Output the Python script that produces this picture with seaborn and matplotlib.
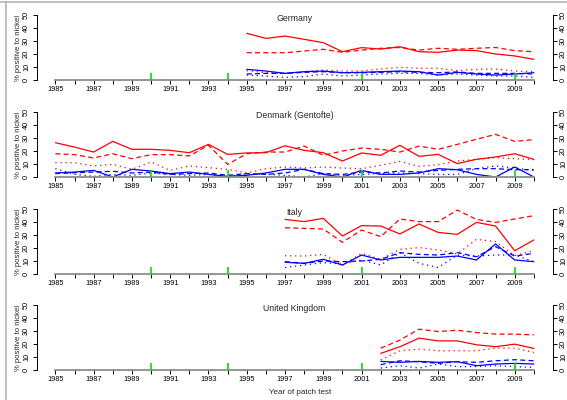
import matplotlib
matplotlib.use('Agg')
import pandas as pd
import matplotlib.pyplot as plt
import seaborn as sns
from matplotlib.lines import Line2D

# Years covered by each centre
de_years = list(range(1995, 2011))
dk_years = list(range(1985, 2011))
it_years = list(range(1997, 2011))
uk_years = list(range(2002, 2011))

# Germany
de_red_solid = [35.9, 32.0, 33.8, 31.3, 28.7, 21.8, 24.9, 23.8, 25.6, 21.8, 21.3, 23.0, 22.6, 20.0, 18.5, 15.9]
de_red_dashed = [21.0, 21.0, 21.0, 22.3, 23.6, 21.3, 23.0, 24.4, 25.0, 23.0, 24.4, 23.6, 24.4, 25.0, 22.6, 21.8]
de_red_dotted = [7.2, 5.6, 5.1, 6.4, 7.7, 6.9, 6.9, 8.5, 9.7, 9.0, 9.0, 7.2, 8.2, 8.5, 6.9, 6.4]
de_blue_solid = [8.2, 6.9, 5.1, 6.4, 6.9, 5.6, 5.9, 6.4, 6.9, 6.4, 3.8, 5.9, 4.6, 3.8, 4.6, 5.6]
de_blue_dashed = [4.6, 5.1, 5.1, 5.9, 6.4, 5.6, 5.6, 5.9, 6.4, 5.9, 5.6, 6.2, 5.1, 5.1, 5.1, 4.6]
de_blue_dotted = [3.8, 3.1, 2.0, 2.6, 4.6, 3.1, 3.8, 4.6, 5.1, 5.1, 3.8, 4.6, 3.8, 3.1, 3.1, 2.0]

# Denmark (Gentofte)
dk_red_solid = [26.4, 23.0, 19.2, 27.4, 21.3, 21.3, 20.5, 18.7, 25.1, 17.4, 18.5, 18.7, 24.0,
                20.5, 18.7, 12.3, 18.5, 16.7, 24.4, 15.9, 17.4, 10.3, 13.6, 15.4, 17.9, 13.6]
dk_red_dashed = [17.9, 17.2, 14.6, 17.9, 14.1, 17.2, 17.2, 16.2, 24.4, 9.7, 17.9, 19.2, 19.2,
                 23.8, 16.7, 20.0, 22.3, 21.3, 19.2, 23.8, 21.3, 25.1, 29.0, 32.8, 27.4, 28.7]
dk_red_dotted = [11.0, 11.0, 8.5, 9.7, 5.9, 11.5, 5.1, 8.5, 7.2, 5.9, 3.1, 6.4, 7.7,
                 6.9, 7.7, 6.9, 6.4, 9.0, 12.0, 8.2, 9.5, 12.3, 13.6, 14.9, 14.1, 13.3]
dk_blue_solid = [3.1, 3.8, 5.1, 0.0, 5.9, 4.6, 2.6, 3.8, 2.0, 0.5, 1.3, 3.1, 5.9,
                 5.9, 2.0, 0.0, 5.1, 2.0, 2.0, 3.1, 6.4, 5.6, 2.0, 0.0, 7.7, 0.0]
dk_blue_dashed = [2.6, 3.3, 3.8, 4.4, 3.1, 3.8, 2.0, 2.6, 3.1, 1.3, 2.6, 2.0, 3.1,
                  5.9, 2.6, 2.0, 3.8, 3.1, 4.6, 3.8, 5.1, 5.9, 6.4, 6.4, 5.6, 5.6]
dk_blue_dotted = [6.4, 2.0, 0.5, 2.0, 1.3, 3.1, 2.0, 1.3, 2.0, 0.0, 2.6, 2.0, 1.3,
                  0.0, 2.6, 1.3, 2.0, 2.6, 3.1, 2.6, 2.0, 2.0, 6.4, 8.5, 6.9, 5.1]

# Italy
it_red_solid = [42.0, 40.3, 42.8, 29.2, 37.2, 36.9, 30.8, 38.5, 32.0, 30.5, 39.7, 36.9, 17.9, 26.2]
it_red_dashed = [35.6, 35.1, 34.6, 24.4, 33.8, 28.7, 42.3, 40.3, 40.3, 49.2, 42.0, 39.7, 42.3, 44.9]
it_red_dotted = [14.1, 13.8, 15.1, 6.9, 15.9, 11.3, 19.0, 20.3, 18.5, 15.4, 26.7, 24.9, 14.1, 17.9]
it_blue_solid = [9.0, 8.2, 11.3, 6.9, 14.6, 10.8, 12.8, 12.8, 12.8, 13.8, 10.8, 23.1, 10.8, 9.5]
it_blue_dashed = [9.5, 8.2, 10.0, 9.5, 10.0, 11.3, 16.4, 15.1, 14.6, 16.4, 13.3, 21.0, 13.8, 15.9]
it_blue_dotted = [4.9, 6.9, 8.7, 7.7, 10.8, 6.9, 16.4, 8.2, 5.0, 14.6, 13.8, 14.6, 14.6, 9.5]

# United Kingdom
uk_red_solid = [12.8, 17.9, 24.5, 22.4, 22.4, 19.4, 17.9, 19.9, 16.6]
uk_red_dashed = [16.8, 23.0, 31.4, 29.6, 30.6, 28.8, 27.6, 27.6, 27.0]
uk_red_dotted = [7.7, 14.8, 16.1, 14.8, 14.8, 14.8, 16.8, 16.8, 13.5]
uk_blue_solid = [6.6, 5.9, 6.6, 5.9, 6.4, 3.3, 4.6, 5.1, 4.6]
uk_blue_dashed = [4.1, 7.1, 6.4, 5.1, 6.4, 5.9, 7.1, 7.9, 7.1]
uk_blue_dotted = [1.5, 3.3, 1.5, 4.6, 2.6, 2.6, 3.3, 2.6, 2.0]

marker_years = [1990, 1994, 2001, 2009]
panel_titles = ["Germany", "Denmark (Gentofte)", "Italy", "United Kingdom"]


def long_frame(years, red_solid, red_dashed, red_dotted, blue_solid, blue_dashed, blue_dotted):
    parts = []
    for colour, kind, vals in [("red", "solid", red_solid), ("red", "dashed", red_dashed),
                               ("red", "dotted", red_dotted), ("blue", "solid", blue_solid),
                               ("blue", "dashed", blue_dashed), ("blue", "dotted", blue_dotted)]:
        parts.append(pd.DataFrame({"year": years, "pct": vals, "colour": colour, "kind": kind}))
    return pd.concat(parts, ignore_index=True)


frames = [
    long_frame(de_years, de_red_solid, de_red_dashed, de_red_dotted, de_blue_solid, de_blue_dashed, de_blue_dotted),
    long_frame(dk_years, dk_red_solid, dk_red_dashed, dk_red_dotted, dk_blue_solid, dk_blue_dashed, dk_blue_dotted),
    long_frame(it_years, it_red_solid, it_red_dashed, it_red_dotted, it_blue_solid, it_blue_dashed, it_blue_dotted),
    long_frame(uk_years, uk_red_solid, uk_red_dashed, uk_red_dotted, uk_blue_solid, uk_blue_dashed, uk_blue_dotted),
]

sns.set_theme(style="ticks")
plt.rcParams['font.family'] = ['Liberation Sans', 'DejaVu Sans']

W, H = 567, 400
fig = plt.figure(figsize=(W / 100, H / 100), dpi=100)

px_per_unit = 1.3
top_val = 52
bottoms_px = [80, 177, 274, 370]
x_left, x_right = 1984.04, 2011.0

palette = {"red": "#ff0000", "blue": "#0000ff"}
dashes = {"solid": "", "dashed": (4, 2.6), "dotted": (1, 3)}

for title, d, b in zip(panel_titles, frames, bottoms_px):
    ax = fig.add_axes([37 / W, (H - b) / H, 516 / W, top_val * px_per_unit / H])
    sns.lineplot(data=d, x="year", y="pct", hue="colour", style="kind",
                 palette=palette, dashes=dashes, legend=False, lw=0.9,
                 estimator=None, ax=ax)
    ax.vlines(marker_years, 0, 5.5, color="#00e000", lw=1.2, zorder=5)

    ax.set_xlim(x_left, x_right)
    ax.set_ylim(0, top_val)
    ax.set_xticks(range(1985, 2011))
    ax.set_xticklabels([str(y) if y % 2 == 1 else "" for y in range(1985, 2011)])
    ax.set_yticks(range(0, 51, 10))
    ax.tick_params(axis="x", length=3, width=0.7, pad=1.5, labelsize=5.3, colors="black")
    ax.tick_params(axis="y", length=3, width=0.7, pad=2.0, labelsize=5.3,
                   right=True, labelright=True, labelrotation=90, colors="black")
    for t in ax.yaxis.get_major_ticks():
        t.label1.set_va("center")
        t.label2.set_va("center")

    ax.spines["top"].set_visible(False)
    ax.spines["left"].set_bounds(0, 50)
    ax.spines["right"].set_bounds(0, 50)
    ax.spines["left"].set_linewidth(0.7)
    ax.spines["right"].set_linewidth(0.7)
    ax.spines["bottom"].set_bounds(1985, 2010)
    ax.spines["bottom"].set_color("#8c8c8c")
    ax.spines["bottom"].set_linewidth(1.3)
    for s in ["left", "right"]:
        ax.spines[s].set_color("black")

    ax.set_xlabel("")
    ax.set_ylabel("% positive to nickel", fontsize=5.6, va="center")
    ax.yaxis.set_label_coords(-0.036, 0.48)
    ax.text(1997.5, 47.5, title, ha="center", va="center", fontsize=6.3)
    ax.set_facecolor("none")

fig.text(300 / W, 1 - 392 / H, "Year of patch test", ha="center", va="center", fontsize=5.8)

# grey page border at the top and left
fig.add_artist(Line2D([0, 1], [1 - 2 / H, 1 - 2 / H], color="#b4b4b4", lw=1.2, transform=fig.transFigure))
fig.add_artist(Line2D([6 / W, 6 / W], [0, 1 - 2 / H], color="#b4b4b4", lw=1.2, transform=fig.transFigure))

fig.savefig("out.png", dpi=100, facecolor="white")
